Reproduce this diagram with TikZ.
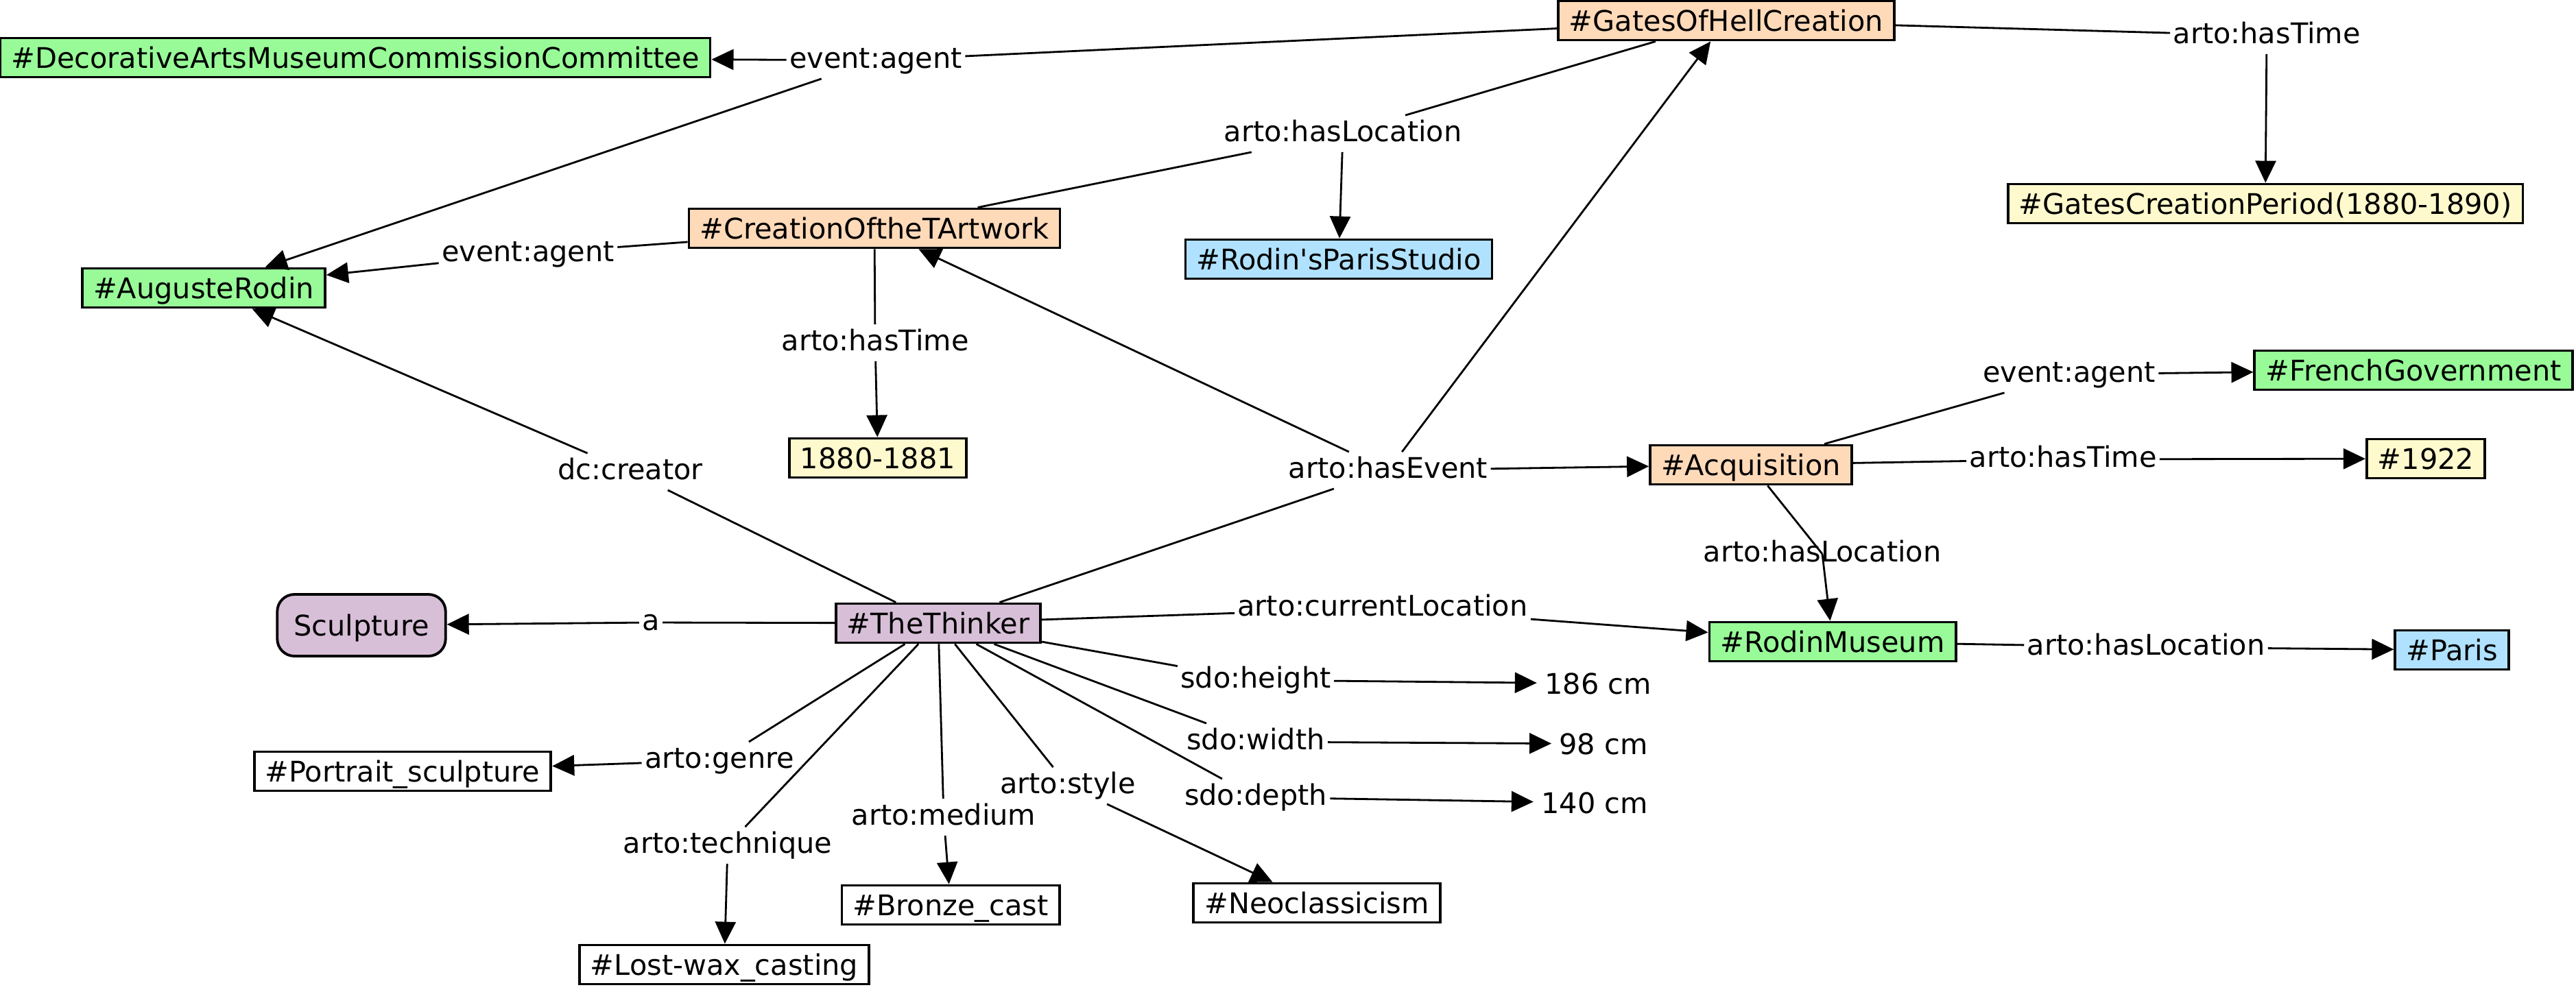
\documentclass[tikz,border=0pt]{standalone}
\usepackage{fontspec}
\setmainfont{DejaVu Sans}
\usetikzlibrary{arrows.meta}
\definecolor{agentgreen}{HTML}{98FB98}
\definecolor{eventpeach}{HTML}{FFDAB9}
\definecolor{placeblue}{HTML}{B0E2FF}
\definecolor{timeyellow}{HTML}{FFFACD}
\definecolor{classthistle}{HTML}{D8BFD8}

\begin{document}
\begin{tikzpicture}[>={Triangle[length=3.2mm,width=3mm]},font=\fontsize{11.8}{14}\selectfont,line width=0.8pt,
  res/.style={draw,line width=1.1pt,inner xsep=1.6mm,inner ysep=0pt,minimum height=5.7mm,text height=3mm,text depth=0pt},
  lbl/.style={inner xsep=0.3mm,inner ysep=0.6mm,text height=3.1mm,text depth=0.8mm},
  lit/.style={inner sep=1mm,text height=3mm,text depth=0pt}]
\useasboundingbox (0,0) rectangle (37.56,-14.46);

\node[res,fill=agentgreen] (decor) at (5.18,-0.84) {\#DecorativeArtsMuseumCommissionCommittee};
\node[res,fill=agentgreen] (rodin) at (2.97,-4.20) {\#AugusteRodin};
\node[res,fill=eventpeach] (creation) at (12.75,-3.33) {\#CreationOftheTArtwork};
\node[res,fill=eventpeach] (gates) at (25.17,-0.30) {\#GatesOfHellCreation};
\node[res,fill=placeblue] (studio) at (19.52,-3.78) {\#Rodin\textquotesingle sParisStudio};
\node[res,fill=timeyellow] (period) at (33.03,-2.97) {\#GatesCreationPeriod(1880-1890)};
\node[res,fill=timeyellow] (y1880) at (12.80,-6.68) {1880-1881};
\node[res,fill=classthistle,rounded corners=2.5mm,minimum height=9mm,inner xsep=2.4mm] (sculpture) at (5.27,-9.12) {Sculpture};
\node[res,fill=classthistle] (thinker) at (13.68,-9.09) {\#TheThinker};
\node[res,fill=eventpeach] (acq) at (25.53,-6.78) {\#Acquisition};
\node[res,fill=agentgreen] (french) at (35.19,-5.40) {\#FrenchGovernment};
\node[res,fill=timeyellow] (y1922) at (35.37,-6.69) {\#1922};
\node[res,fill=agentgreen] (museum) at (26.72,-9.36) {\#RodinMuseum};
\node[res,fill=placeblue] (paris) at (35.75,-9.48) {\#Paris};
\node[lit] (h186) at (23.30,-9.97) {186 cm};
\node[lit] (w98) at (23.38,-10.85) {98 cm};
\node[lit] (d140) at (23.25,-11.71) {140 cm};
\node[res] (portrait) at (5.87,-11.25) {\#Portrait\_sculpture};
\node[res] (lostwax) at (10.56,-14.07) {\#Lost-wax\_casting};
\node[res] (bronze) at (13.86,-13.20) {\#Bronze\_cast};
\node[res] (neo) at (19.20,-13.17) {\#Neoclassicism};

\node[lbl] (lAgentA) at (12.77,-0.88) {event:agent};
\node[lbl] (lAgentB) at (7.70,-3.70) {event:agent};
\node[lbl] (lLocA) at (19.58,-1.95) {arto:hasLocation};
\node[lbl] (lTimeA) at (33.05,-0.52) {arto:hasTime};
\node[lbl] (lTimeB) at (12.76,-5.00) {arto:hasTime};
\node[lbl] (lCreator) at (9.19,-6.88) {dc:creator};
\node[lbl] (lA) at (9.49,-9.08) {a};
\node[lbl] (lEvent) at (20.24,-6.86) {arto:hasEvent};
\node[lbl] (lCurLoc) at (20.16,-8.87) {arto:currentLocation};
\node[lbl] (lHeight) at (18.31,-9.92) {sdo:height};
\node[lbl] (lWidth) at (18.31,-10.82) {sdo:width};
\node[lbl] (lDepth) at (18.31,-11.63) {sdo:depth};
\node[lbl] (lStyle) at (15.57,-11.46) {arto:style};
\node[lbl] (lMedium) at (13.76,-11.92) {arto:medium};
\node[lbl] (lTech) at (10.61,-12.33) {arto:technique};
\node[lbl] (lGenre) at (10.49,-11.09) {arto:genre};
\node[lbl] (lAgentC) at (30.17,-5.46) {event:agent};
\node[lbl] (lTimeC) at (30.08,-6.70) {arto:hasTime};
\node[lbl] (lLocC) at (26.57,-8.08) {arto:hasLocation};
\node[lbl] (lLocD) at (31.29,-9.44) {arto:hasLocation};

\draw (gates) -- (lAgentA);
\draw[->] (lAgentA) -- (decor);
\draw[->] (lAgentA) -- (rodin);
\draw (creation) -- (lAgentB);
\draw[->] (lAgentB) -- (rodin);
\draw (gates) -- (lLocA);
\draw (creation) -- (lLocA);
\draw[->] (lLocA) -- (studio);
\draw (gates) -- (lTimeA);
\draw[->] (lTimeA) -- (period);
\draw (creation) -- (lTimeB);
\draw[->] (lTimeB) -- (y1880);
\draw (thinker) -- (lCreator);
\draw[->] (lCreator) -- (rodin);
\draw (thinker) -- (lA);
\draw[->] (lA) -- (sculpture);
\draw (thinker) -- (lEvent);
\draw[->] (lEvent) -- (acq);
\draw[->] (lEvent) -- (creation);
\draw[->] (lEvent) -- (gates);
\draw (thinker) -- (lCurLoc);
\draw[->] (lCurLoc) -- (museum);
\draw (thinker) -- (lHeight);
\draw[->] (lHeight) -- (h186);
\draw (thinker) -- (lWidth);
\draw[->] (lWidth) -- (w98);
\draw (thinker) -- (lDepth);
\draw[->] (lDepth) -- (d140);
\draw (thinker) -- (lStyle);
\draw[->] (lStyle) -- (neo);
\draw (thinker) -- (lMedium);
\draw[->] (lMedium) -- (bronze);
\draw (thinker) -- (lTech);
\draw[->] (lTech) -- (lostwax);
\draw (thinker) -- (lGenre);
\draw[->] (lGenre) -- (portrait);
\draw (acq) -- (lAgentC);
\draw[->] (lAgentC) -- (french);
\draw (acq) -- (lTimeC);
\draw[->] (lTimeC) -- (y1922);
\draw (acq) -- (lLocC.center);
\draw[->] (lLocC.center) -- (museum);
\draw (museum) -- (lLocD);
\draw[->] (lLocD) -- (paris);
\end{tikzpicture}
\end{document}
